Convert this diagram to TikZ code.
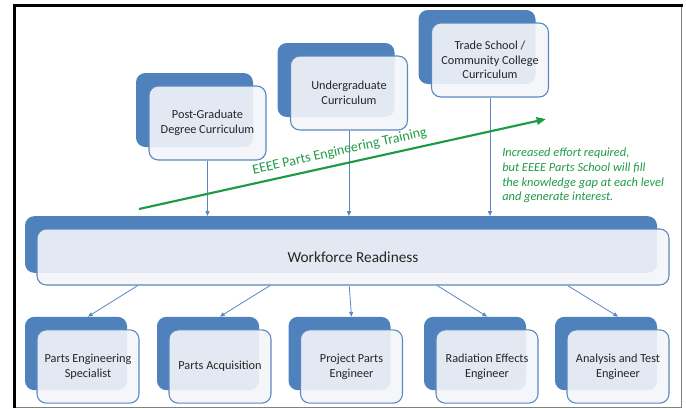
\documentclass[tikz,border=0pt]{standalone}
\usepackage{fontspec}
\setmainfont{Carlito}
\usetikzlibrary{positioning,calc,arrows.meta}
\definecolor{boxblue}{HTML}{4F81BD}
\definecolor{lineblue}{HTML}{5B87C0}
\definecolor{boxfill}{HTML}{F3F5F8}
\definecolor{traingreen}{HTML}{1E9A46}
\definecolor{textgray}{HTML}{262626}
\tikzset{
  backbox/.style={fill=boxblue,draw=none,rounded corners=7pt,inner sep=0pt},
  frontbox/.style={fill=boxfill,fill opacity=0.9,draw=lineblue,line width=0.8pt,
    rounded corners=7pt,inner sep=2pt,align=center,text=textgray,text opacity=1,
    font=\fontsize{9.2}{11}\selectfont},
  feed/.style={draw=lineblue,line width=0.6pt,-{Triangle[length=3.5pt,width=3pt]}}
}
\begin{document}
\begin{tikzpicture}[x=0.75pt,y=-0.75pt]
\useasboundingbox (0,0) rectangle (686,408);
% frame
\draw[gray,line width=0.8pt] (681.5,5.5) -- (681.5,408) (14,407.3) -- (682,407.3);
\draw[line width=2.25pt] (14.5,408) -- (14.5,5.5) -- (683,5.5);

% curriculum boxes
\node[backbox,minimum width=87.75pt,minimum height=55.5pt] (pgb) at (194.5,110) {};
\node[frontbox,minimum width=87.75pt,minimum height=55.5pt] (pg) at (207.5,123) {Post-Graduate\\Degree Curriculum};
\node[backbox,minimum width=87.75pt,minimum height=55.5pt] (ugb) at (336,80) {};
\node[frontbox,minimum width=87.75pt,minimum height=55.5pt] (ug) at (349,93) {Undergraduate\\Curriculum};
\node[backbox,minimum width=87.75pt,minimum height=55.5pt] (tsb) at (477,47) {};
\node[frontbox,minimum width=87.75pt,minimum height=55.5pt] (ts) at (490,60) {Trade School /\\Community College\\Curriculum};

% workforce readiness
\node[backbox,minimum width=474pt,minimum height=42.5pt] (wfb) at (341,244.5) {};
\node[frontbox,minimum width=474pt,minimum height=42pt,font=\fontsize{11.5}{14}\selectfont] (wf) at (353,257) {Workforce Readiness};

% roles
\foreach \n/\x/\t in {pes/88/{Parts Engineering\\Specialist},pa/220/{Parts Acquisition},
    ppe/351.5/{Project Parts\\Engineer},ree/487/{Radiation Effects\\Engineer},ate/618/{Analysis and Test\\Engineer}}{
  \node[backbox,minimum width=76.5pt,minimum height=55pt] (\n b) at (\x-12,353.5) {};
  \node[frontbox,minimum width=76.5pt,minimum height=55pt] (\n) at (\x,366.5) {\t};
}

% connectors
\foreach \n in {pg,ug,ts}
  \draw[feed] (\n.south) -- (\n.south |- wfb.north);
\foreach \n/\f in {pes/0.16,pa/0.369,ppe/0.494,ree/0.633,ate/0.839}
  \draw[feed] ($(wf.south west)!\f!(wf.south east)$) -- (\n.north |- \n b.north);

% training arrow
\coordinate (gs) at (139,209);
\coordinate (ge) at (546,119);
\draw[traingreen,line width=1.6pt,-{Triangle[length=7pt,width=5.5pt]}] (gs) -- node[sloped,above=1pt,font=\fontsize{10.5}{12}\selectfont] {EEEE Parts Engineering Training} (ge);
\node[anchor=north west,align=left,text=traingreen,inner sep=0pt,font=\fontsize{9.3}{11}\selectfont\itshape] (note) at (502,148)
  {Increased effort required,\\but EEEE Parts School will fill\\the knowledge gap at each level\\and generate interest.};
\end{tikzpicture}
\end{document}
